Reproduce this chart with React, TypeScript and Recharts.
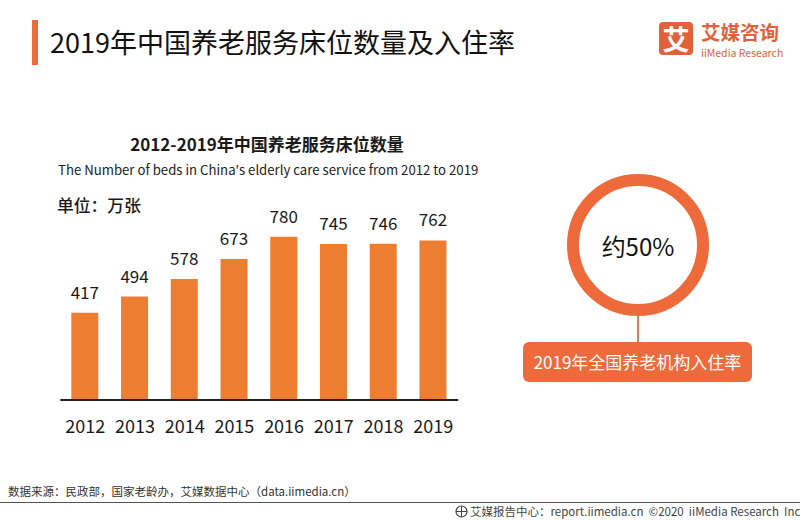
import { BarChart, Bar, XAxis, YAxis, LabelList } from 'recharts'

const years = ['2012', '2013', '2014', '2015', '2016', '2017', '2018', '2019']
const beds = [417, 494, 578, 673, 780, 745, 746, 762]
const yDomain = [0, 1000]

const data = years.map((year, i) => ({ year, beds: beds[i] }))

const FONT = '"Noto Sans CJK SC", "Noto Sans", sans-serif'
const BAR = '#ED7D31'
const ACCENT = '#EF6A3A'

const abs = (s: React.CSSProperties): React.CSSProperties => ({ position: 'absolute', whiteSpace: 'nowrap', ...s })

export default function App() {
  return (
    <div style={{ position: 'absolute', left: 0, top: 0, width: 800, height: 520, background: '#fff', fontFamily: FONT, color: '#1a1a1a', overflow: 'hidden' }}>
      {/* header */}
      <div style={abs({ left: 32, top: 20, width: 6, height: 45, background: ACCENT })} />
      <div style={abs({ left: 50, top: 22, fontSize: 27, lineHeight: '40px', color: '#111' })}>
        2019年中国养老服务床位数量及入住率
      </div>

      {/* logo */}
      <div style={abs({ left: 659, top: 22, width: 34, height: 33, borderRadius: 4, background: '#E1623A', color: '#fff', fontSize: 27, fontWeight: 700, lineHeight: '33px', textAlign: 'center' })}>艾</div>
      <div style={abs({ left: 701, top: 21, fontSize: 19.5, fontWeight: 700, lineHeight: '22px', color: '#E1623A' })}>艾媒咨询</div>
      <div style={abs({ left: 701, top: 47, fontSize: 10.5, lineHeight: '12px', color: '#E1623A' })}>iiMedia Research</div>

      {/* chart titles */}
      <div style={abs({ left: 67, width: 400, top: 131, textAlign: 'center', fontSize: 17, fontWeight: 700, lineHeight: '26px' })}>
        2012-2019年中国养老服务床位数量
      </div>
      <div style={abs({ left: 58, top: 160, fontSize: 13.2, lineHeight: '20px', color: '#222' })}>
        The Number of beds in China's elderly care service from 2012 to 2019
      </div>
      <div style={abs({ left: 57, top: 193, fontSize: 16.8, fontWeight: 500, lineHeight: '24px' })}>单位：万张</div>

      {/* bar chart */}
      <div style={abs({ left: 40, top: 180 })}>
        <BarChart width={440} height={270} data={data} margin={{ top: 10.6, right: 21.8, left: 20.3, bottom: 10 }} barSize={27}>
          <YAxis hide domain={yDomain} />
          <XAxis
            dataKey="year"
            height={40}
            axisLine={{ stroke: '#222', strokeWidth: 2 }}
            tickLine={false}
            tickMargin={14}
            tick={{ fontSize: 18, fill: '#1a1a1a', fontFamily: FONT }}
          />
          <Bar dataKey="beds" fill={BAR} isAnimationActive={false}>
            <LabelList dataKey="beds" position="top" offset={14} style={{ fontSize: 17, fill: '#1a1a1a', fontFamily: FONT }} />
          </Bar>
        </BarChart>
      </div>

      {/* occupancy ring */}
      <div style={abs({ left: 567, top: 174, width: 118, height: 118, borderRadius: '50%', border: `12px solid ${ACCENT}`, display: 'flex', alignItems: 'center', justifyContent: 'center' })}>
        <span style={{ fontSize: 24, color: '#111' }}>约50%</span>
      </div>
      <div style={abs({ left: 637, top: 316, width: 2, height: 26, background: '#E27A48' })} />
      <div style={abs({ left: 523, top: 342, width: 229, height: 40, borderRadius: 6, background: ACCENT, color: '#fff', fontSize: 17, lineHeight: '40px', textAlign: 'center' })}>
        2019年全国养老机构入住率
      </div>

      {/* footer */}
      <div style={abs({ left: 8, top: 483, fontSize: 11.5, lineHeight: '16px', color: '#333' })}>
        数据来源：民政部，国家老龄办，艾媒数据中心（data.iimedia.cn）
      </div>
      <div style={abs({ left: 0, top: 502, width: 800, height: 1, background: '#555' })} />
      <svg style={abs({ left: 455, top: 505 })} width={13} height={13}>
        <circle cx={6.5} cy={6.5} r={5.5} fill="none" stroke="#444" strokeWidth={1.2} />
        <path d="M1 6.5 H12 M6.5 1 V12" stroke="#444" strokeWidth={1} />
      </svg>
      <div style={abs({ left: 470, top: 503, fontSize: 11.5, lineHeight: '16px', color: '#444' })}>
        艾媒报告中心：report.iimedia.cn&nbsp;&nbsp;©2020&nbsp;&nbsp;iiMedia Research&nbsp;&nbsp;Inc
      </div>
    </div>
  )
}
